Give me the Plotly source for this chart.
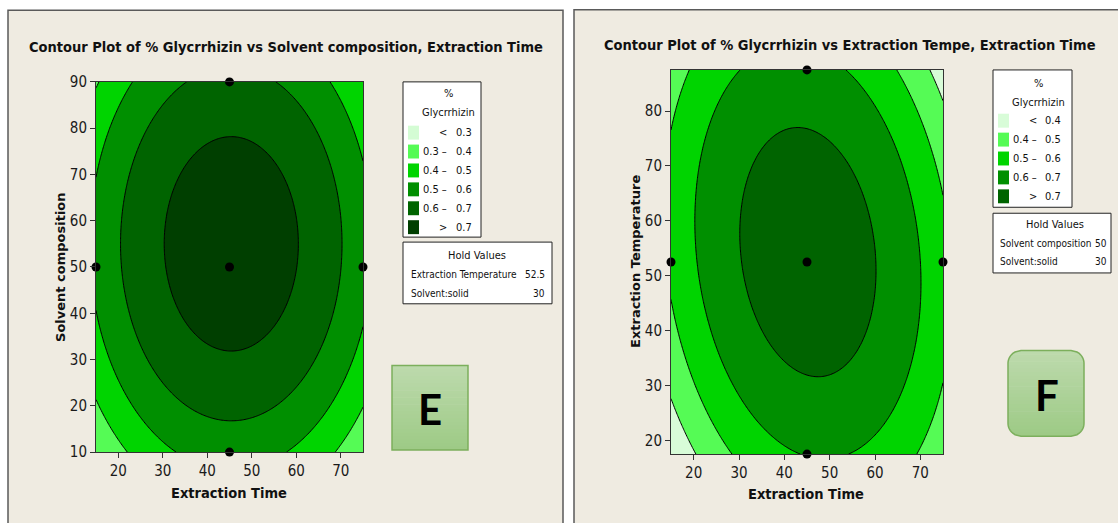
import numpy as np
import plotly.graph_objects as go

W, H = 1118, 523

# ---- shared axis: Extraction Time ----
time_range = [15, 75]
time_ticks = [20, 30, 40, 50, 60, 70]

# ---- panel E: % Glycrrhizin vs Solvent composition, Extraction Time ----
E_y_range = [10, 90]
E_y_ticks = [10, 20, 30, 40, 50, 60, 70, 80, 90]
# fitted second-order response: peak - a_tt*dt^2 - a_yy*dy^2 - a_ty*dt*dy
E_peak, E_t0, E_y0 = 0.758, 45.4, 55.0
E_a_tt, E_a_yy, E_a_ty = 0.000255, 0.000108, 0.0
E_levels = [0.3, 0.4, 0.5, 0.6, 0.7]
E_colors = ["#d4fcd4", "#55fb55", "#00d400", "#008f00", "#006400", "#003f00"]
E_left_labels = ["<", "0.3 \u2013", "0.4 \u2013", "0.5 \u2013", "0.6 \u2013", ">"]
E_right_labels = ["0.3", "0.4", "0.5", "0.6", "0.7", "0.7"]
E_design_t = [45, 15, 45, 75, 45]
E_design_y = [90, 50, 50, 50, 10]
E_hold_names = ["Extraction Temperature", "Solvent:solid"]
E_hold_values = ["52.5", "30"]

# ---- panel F: % Glycrrhizin vs Extraction Temperature, Extraction Time ----
F_y_range = [17.5, 87.5]
F_y_ticks = [20, 30, 40, 50, 60, 70, 80]
F_peak, F_t0, F_y0 = 0.757, 45.2, 54.3
F_a_tt, F_a_yy, F_a_ty = 0.000258, 0.000113, 0.000051
F_levels = [0.4, 0.5, 0.6, 0.7]
F_colors = ["#d8fcd8", "#55fb55", "#00d400", "#008f00", "#006400"]
F_left_labels = ["<", "0.4 \u2013", "0.5 \u2013", "0.6 \u2013", ">"]
F_right_labels = ["0.4", "0.5", "0.6", "0.7", "0.7"]
F_design_t = [45, 15, 45, 75, 45]
F_design_y = [87.5, 52.5, 52.5, 52.5, 17.5]
F_hold_names = ["Solvent composition", "Solvent:solid"]
F_hold_values = ["50", "30"]

BG = "#efebe1"
NARROW = "Liberation Sans Narrow, Arial Narrow, DejaVu Sans Condensed, sans-serif"
WIDE_BOLD = "DejaVu Sans, Verdana, sans-serif"

# page layout: the figure sits below an 8px page margin and the page is
# displayed 539px tall inside 523px, so vertical page positions are mapped here
PAGE_TOP, PAGE_SCALE = 8, 523 / 539


def fx(x):
    return x / W


def fy(y):
    return 1 - (y / PAGE_SCALE - PAGE_TOP) / H


def surface(t, y, peak, t0, y0, a_tt, a_yy, a_ty):
    T, Y = np.meshgrid(t, y)
    dt, dy = T - t0, Y - y0
    return peak - a_tt * dt ** 2 - a_yy * dy ** 2 - a_ty * dt * dy


fig = go.Figure()
shapes = []
annotations = []

# panel frames
shapes.append(dict(type="rect", xref="paper", yref="paper", x0=fx(8), x1=fx(563), y0=fy(9), y1=fy(600),
                   fillcolor=BG, line=dict(color="#5a5a5a", width=1.5), layer="below"))
shapes.append(dict(type="rect", xref="paper", yref="paper", x0=fx(574), x1=fx(1160), y0=fy(8.6), y1=fy(600),
                   fillcolor=BG, line=dict(color="#5a5a5a", width=1.5), layer="below"))


def add_panel(idx, box, y_range, y_ticks, coef, levels, colors, d_t, d_y):
    xa = "x" if idx == 1 else "x2"
    ya = "y" if idx == 1 else "y2"
    t = np.linspace(time_range[0], time_range[1], 61)
    yv = np.linspace(y_range[0], y_range[1], 71)
    z = surface(t, yv, *coef)
    n = len(colors)
    cs = [[i / (n - 1), c] for i, c in enumerate(colors)]
    fig.add_trace(go.Contour(
        x=t, y=yv, z=z, xaxis=xa, yaxis=ya, colorscale=cs, showscale=False,
        contours=dict(start=levels[0], end=levels[-1], size=0.1, coloring="fill", showlines=True),
        line=dict(color="black", width=1, smoothing=0.6), hoverinfo="skip"))
    fig.add_trace(go.Scatter(
        x=d_t, y=d_y, xaxis=xa, yaxis=ya, mode="markers", cliponaxis=False,
        marker=dict(color="black", size=9), hoverinfo="skip", showlegend=False))
    x0, x1, y0, y1 = box
    axis_common = dict(showgrid=False, zeroline=False, showline=True, mirror=True,
                       linecolor="#333333", linewidth=1, ticks="outside", ticklen=5,
                       tickcolor="#333333", tickfont=dict(family=NARROW, size=15, color="#1a1a1a"))
    fig.update_layout(**{
        ("xaxis" if idx == 1 else "xaxis2"): dict(domain=[fx(x0), fx(x1)], range=time_range,
                                                   tickvals=time_ticks, anchor=ya, **axis_common),
        ("yaxis" if idx == 1 else "yaxis2"): dict(domain=[fy(y1), fy(y0)], range=y_range,
                                                   tickvals=y_ticks, anchor=xa, **axis_common),
    })


add_panel(1, (96, 363, 81, 453), E_y_range, E_y_ticks,
          (E_peak, E_t0, E_y0, E_a_tt, E_a_yy, E_a_ty), E_levels, E_colors, E_design_t, E_design_y)
add_panel(2, (671, 943, 69, 455), F_y_range, F_y_ticks,
          (F_peak, F_t0, F_y0, F_a_tt, F_a_yy, F_a_ty), F_levels, F_colors, F_design_t, F_design_y)


def text(x, y, s, size, family=NARROW, bold=False, xanchor="center", angle=0, color="#111111"):
    annotations.append(dict(xref="paper", yref="paper", x=fx(x), y=fy(y), text=f"<b>{s}</b>" if bold else s,
                            showarrow=False, xanchor=xanchor, yanchor="middle", textangle=angle,
                            font=dict(family=family, size=size, color=color)))


# titles and axis labels
text(286, 46, "Contour Plot of % Glycrrhizin vs Solvent composition, Extraction Time", 14.5, bold=True)
text(850, 44, "Contour Plot of % Glycrrhizin vs Extraction Tempe, Extraction Time", 14.5, bold=True)
text(229, 494, "Extraction Time", 14.5, bold=True)
text(806, 495, "Extraction Time", 14.5, bold=True)
text(61, 267, "Solvent composition", 13, family=WIDE_BOLD, bold=True, angle=-90)
text(636, 262, "Extraction Temperature", 13, family=WIDE_BOLD, bold=True, angle=-90)


def legend_box(box, head_x, head_y, row_y0, sw_x, left_end, right_end, colors, l_labels, r_labels):
    x0, x1, y0, y1 = box
    shapes.append(dict(type="rect", xref="paper", yref="paper", x0=fx(x0), x1=fx(x1), y0=fy(y1), y1=fy(y0),
                       fillcolor="white", line=dict(color="#222222", width=1)))
    text(head_x, head_y[0], "%", 11)
    text(head_x, head_y[1], "Glycrrhizin", 11)
    for i, c in enumerate(colors):
        yc = row_y0 + 19 * i
        shapes.append(dict(type="rect", xref="paper", yref="paper", x0=fx(sw_x), x1=fx(sw_x + 11),
                           y0=fy(yc + 7), y1=fy(yc - 7), fillcolor=c, line=dict(width=0)))
        text(left_end, yc, l_labels[i], 11, xanchor="right")
        text(right_end, yc, r_labels[i], 11, xanchor="right")


def hold_box(box, head_x, rows_y, lx, rx, names, values, size):
    x0, x1, y0, y1 = box
    shapes.append(dict(type="rect", xref="paper", yref="paper", x0=fx(x0), x1=fx(x1), y0=fy(y1), y1=fy(y0),
                       fillcolor="white", line=dict(color="#222222", width=1)))
    text(head_x, rows_y[0], "Hold Values", 11)
    for i, (nm, v) in enumerate(zip(names, values)):
        text(lx, rows_y[i + 1], nm, size, xanchor="left")
        text(rx, rows_y[i + 1], v, size, xanchor="right")


legend_box((403, 481, 81, 237), 448, (93, 112), 132, 408, 449, 474, E_colors, E_left_labels, E_right_labels)
hold_box((403, 552, 242, 304), 477, (255, 275, 294), 409, 547, E_hold_names, E_hold_values, 10)
legend_box((993, 1072, 69, 207), 1038, (83, 102), 120, 998, 1039, 1063, F_colors, F_left_labels, F_right_labels)
hold_box((993, 1111, 213, 273), 1055, (224, 243, 262), 998, 1109, F_hold_names, F_hold_values, 10)


# labelled panel badges with a soft vertical gradient
def mix(c1, c2, f):
    a = [int(c1[i:i + 2], 16) for i in (1, 3, 5)]
    b = [int(c2[i:i + 2], 16) for i in (1, 3, 5)]
    return "#" + "".join(f"{round(a[k] + (b[k] - a[k]) * f):02x}" for k in range(3))


TOP, BOT, EDGE = "#bddaad", "#9dca85", "#7caf5c"


def badge(x0, x1, y0, y1, r, letter, lx, ly):
    n = 24

    def inset(y):
        if y < y0 + r:
            d = y0 + r - y
        elif y > y1 - r:
            d = y - (y1 - r)
        else:
            return 0.0
        return r - np.sqrt(max(r * r - d * d, 0))

    for i in range(n):
        ya, yb = y0 + (y1 - y0) * i / n, y0 + (y1 - y0) * (i + 1) / n + 0.6
        yb = min(yb, y1)
        ys = np.linspace(ya, yb, 5)
        pts = [(x0 + inset(v), v) for v in ys] + [(x1 - inset(v), v) for v in ys[::-1]]
        path = "M " + " L ".join(f"{fx(px_):.5f},{fy(py_):.5f}" for px_, py_ in pts) + " Z"
        shapes.append(dict(type="path", xref="paper", yref="paper", path=path,
                           fillcolor=mix(TOP, BOT, (i + 0.5) / n), line=dict(width=0)))
    ys = np.linspace(y0, y1, 60)
    pts = [(x0 + inset(v), v) for v in ys] + [(x1 - inset(v), v) for v in ys[::-1]]
    path = "M " + " L ".join(f"{fx(px_):.5f},{fy(py_):.5f}" for px_, py_ in pts) + " Z"
    shapes.append(dict(type="path", xref="paper", yref="paper", path=path,
                       line=dict(color=EDGE, width=1.5)))
    text(lx, ly, letter, 42, family="Lato, Open Sans, sans-serif", bold=True, color="#000000")


badge(392, 468, 366, 451, 0.01, "E", 430, 410)
badge(1008, 1084, 351, 437, 13, "F", 1047, 396)

fig.update_layout(width=W, height=H, margin=dict(l=0, r=0, t=0, b=0),
                  paper_bgcolor="white", plot_bgcolor=BG, showlegend=False,
                  shapes=shapes, annotations=annotations)

fig.write_html("out.html")
